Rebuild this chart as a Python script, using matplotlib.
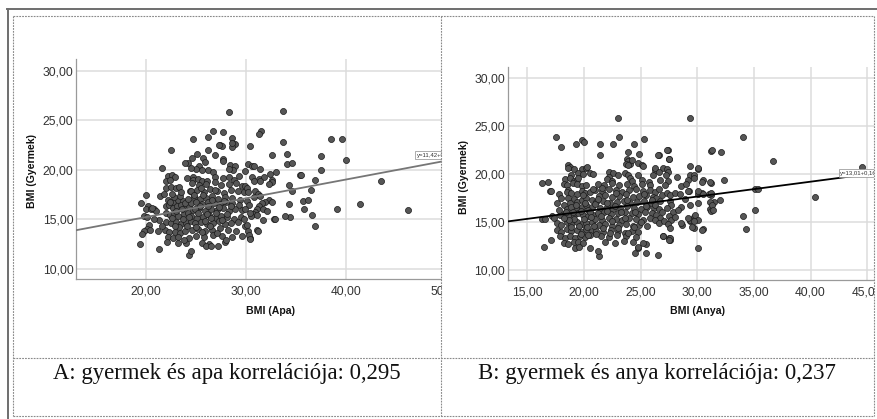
import matplotlib
matplotlib.use("Agg")
import matplotlib.pyplot as plt
from matplotlib.patches import Rectangle
from matplotlib.lines import Line2D

# ---------------- data ----------------
points_apa = [
    # sparse / outer points
    (28.3, 25.8), (33.7, 25.95), (38.5, 23.1), (39.6, 23.1), (40.0, 21.0), (43.5, 18.9), (41.4, 16.5),
    (39.1, 16.0), (46.2, 15.9), (37.5, 21.4), (37.5, 19.95), (36.9, 19.0), (36.5, 18.0), (36.9, 14.3),
    (36.6, 15.4), (35.8, 16.0), (35.7, 16.9), (36.2, 17.0), (35.4, 19.5), (34.6, 17.9), (34.3, 18.5),
    (34.3, 16.5), (34.4, 15.2), (33.9, 15.35), (34.1, 20.6), (34.6, 20.7), (34.1, 21.6), (33.7, 22.8),
    (32.6, 21.5), (33.0, 19.8), (32.4, 19.6), (32.6, 19.0), (32.8, 15.0), (31.7, 14.9), (31.1, 13.9),
    (30.4, 13.1), (31.5, 23.9), (31.3, 23.6), (30.4, 22.4), (28.9, 22.6), (28.6, 23.2), (28.6, 22.3),
    (27.7, 23.8), (26.7, 23.9), (26.2, 23.3), (24.7, 23.1), (27.4, 22.5), (27.6, 22.4), (22.5, 22.0),
    (21.6, 20.2), (20.0, 17.45), (19.5, 16.6), (19.4, 12.5), (21.3, 12.05), (24.3, 11.4), (24.5, 11.8),
    (27.2, 12.3), (35.5, 19.5),
    # left part of the cloud
    (24.2, 20.7), (23.9, 20.7), (22.2, 19.4), (22.6, 19.5), (22.9, 19.3), (24.1, 19.2), (24.7, 19.3),
    (22.0, 18.9), (22.4, 19.0), (22.0, 18.2), (22.5, 18.3), (23.0, 18.2), (23.3, 18.3), (21.4, 17.4),
    (21.8, 17.6), (24.4, 17.9), (24.7, 17.7), (22.2, 16.95), (22.7, 16.8), (23.2, 16.95), (23.7, 16.9),
    (20.2, 16.3), (20.0, 16.0), (20.5, 16.0), (20.8, 16.0), (22.0, 16.3), (22.3, 16.4), (22.7, 16.1),
    (23.1, 16.3), (23.5, 16.4), (24.0, 16.2), (24.3, 16.3), (19.8, 15.3), (20.1, 15.2), (21.3, 14.95),
    (20.8, 15.0), (22.0, 15.6), (22.4, 15.4), (22.8, 15.6), (23.2, 15.3), (23.8, 15.5), (24.2, 15.6),
    (22.0, 14.7), (22.5, 14.6), (23.0, 14.7), (23.5, 14.5), (24.0, 14.6), (24.5, 14.8), (20.3, 14.4),
    (20.1, 14.0), (19.8, 13.8), (19.6, 13.5), (21.9, 13.9), (22.3, 13.7), (22.9, 13.7), (23.4, 13.6),
    (23.9, 13.8), (22.2, 13.2), (22.7, 13.1), (23.2, 13.2), (23.2, 12.65), (24.0, 12.6), (21.2, 13.8),
    (20.4, 13.9), (21.6, 14.3), (21.0, 15.8), (20.6, 16.1),
    # middle part of the cloud
    (28.6, 22.7), (27.3, 22.5), (26.2, 22.0), (26.9, 21.5), (27.7, 21.1), (27.7, 20.9), (25.1, 21.6),
    (24.6, 21.2), (25.7, 21.2), (25.9, 20.8), (28.4, 20.5), (28.9, 20.4), (28.7, 20.0), (28.3, 20.1),
    (25.3, 20.4), (26.2, 20.0), (26.7, 19.8), (25.6, 20.0), (25.0, 20.1), (24.5, 20.2), (26.9, 19.3),
    (27.7, 19.2), (28.3, 19.3), (28.8, 19.0), (29.3, 19.4), (24.7, 19.0), (25.2, 19.1), (25.6, 18.9),
    (26.1, 18.9),
    (24.6, 18.7), (25.3, 18.5), (26.0, 18.6), (26.9, 18.8), (27.5, 18.5), (28.3, 18.6), (29.0, 18.7),
    (29.6, 18.4), (24.5, 17.9), (25.1, 18.0), (25.8, 17.8), (26.4, 18.1), (27.1, 17.9), (27.8, 17.7),
    (28.5, 18.0), (29.2, 17.9), (29.8, 17.8), (24.8, 17.3), (25.4, 17.1), (26.0, 17.2), (26.6, 17.4),
    (27.2, 17.1), (27.9, 17.3), (28.6, 17.2), (29.4, 17.0), (24.5, 16.6), (25.0, 16.7), (25.6, 16.5),
    (26.2, 16.8), (26.8, 16.6), (27.4, 16.5), (28.0, 16.7), (28.6, 16.6), (29.3, 16.4), (24.7, 15.9),
    (25.3, 16.1), (25.9, 15.8), (26.5, 16.0), (27.1, 15.9), (27.7, 16.1), (28.3, 15.8), (28.9, 16.0),
    (29.6, 15.9), (24.5, 15.3), (25.1, 15.1), (25.7, 15.2), (26.3, 15.4), (26.9, 15.1), (27.5, 15.3),
    (28.1, 15.2), (28.8, 15.0), (29.5, 15.2), (24.9, 14.6), (25.5, 14.7), (26.1, 14.5), (26.7, 14.6),
    (27.3, 14.8), (27.9, 14.5), (28.5, 14.6), (29.2, 14.7), (24.6, 13.9), (25.2, 14.0), (25.9, 13.8),
    (26.6, 13.9), (27.4, 14.1), (28.2, 13.9), (29.0, 13.8), (25.0, 13.3), (25.8, 13.2), (26.7, 13.4),
    (27.6, 13.3), (28.6, 13.2), (25.6, 12.6), (26.3, 12.5), (27.9, 12.7), (26.0, 12.3), (26.5, 12.35),
    (28.0, 12.9), (29.6, 13.3), (29.8, 15.0), (29.9, 14.3),
    # right part of the cloud
    (30.2, 20.6), (30.6, 20.4), (30.8, 20.4), (31.4, 20.1), (29.9, 19.9), (30.6, 19.3), (31.35, 19.05),
    (31.8, 19.3), (30.8, 18.9), (31.4, 18.9), (32.6, 18.8), (32.3, 18.6), (29.9, 18.4), (30.1, 18.2),
    (30.2, 17.8), (30.9, 17.9), (31.2, 17.6), (31.4, 17.4), (30.8, 17.3), (32.3, 17.0), (32.6, 16.8),
    (31.9, 16.8), (31.6, 16.6), (31.3, 16.3), (31.1, 16.0), (31.7, 16.0), (32.1, 15.8), (30.9, 15.7),
    (30.7, 15.5), (30.5, 15.3), (30.1, 16.9), (30.3, 16.4), (29.9, 16.0), (30.4, 15.6), (31.1, 15.4),
    (30.1, 14.4), (30.2, 13.8), (30.3, 13.4), (30.4, 13.0), (31.2, 13.8), (32.9, 15.0),
    # dense core
    (23.3, 14.2), (23.7, 15.0), (24.1, 14.3), (24.3, 15.2), (23.6, 16.0), (23.9, 16.6), (24.2, 17.1),
    (23.4, 17.4), (23.0, 15.8), (22.6, 15.1), (22.9, 14.3), (22.4, 16.7), (22.8, 17.3), (23.5, 17.8),
    (22.6, 17.6), (25.0, 14.2), (25.4, 16.3), (25.7, 17.5), (26.1, 15.5), (26.4, 14.3), (26.6, 17.0),
    (26.2, 16.3), (27.0, 15.6), (27.3, 16.2), (27.6, 14.9), (27.8, 16.9), (26.9, 18.0), (25.5, 18.2),
    (24.9, 16.0), (25.9, 14.8), (25.2, 15.6), (24.8, 17.5), (26.5, 15.1), (27.1, 13.6), (28.1, 15.5),
    (28.5, 16.3), (25.6, 13.7), (24.3, 13.1), (23.8, 12.9), (22.1, 12.7),
]

points_anya = [
    # sparse / outer points
    (23.0, 25.8), (29.4, 25.9), (23.1, 23.9), (17.5, 23.9), (18.0, 22.8), (19.3, 23.1), (19.8, 23.6),
    (20.0, 23.3), (21.4, 23.1), (22.6, 23.1), (24.4, 23.1), (25.3, 23.7), (34.0, 23.9), (36.7, 21.4),
    (31.2, 22.4), (32.1, 22.3), (32.4, 19.4), (40.4, 17.6), (44.5, 20.7), (35.1, 18.5), (35.4, 18.5),
    (35.1, 16.25), (34.0, 15.6), (34.3, 14.3), (30.1, 12.3), (26.5, 11.6), (24.5, 11.8), (21.3, 11.5),
    (21.2, 12.0), (20.5, 12.3), (16.5, 12.4), (17.1, 13.1), (16.3, 19.1), (16.8, 19.2), (17.0, 18.2),
    (16.3, 15.3), (21.4, 22.0), (23.9, 22.3), (24.9, 22.1), (26.6, 22.0), (27.4, 22.5), (27.5, 21.6),
    (30.1, 20.5), (30.5, 19.4), (31.2, 19.1), (31.2, 17.8), (32.0, 17.3), (31.5, 17.1), (31.1, 16.4),
    (31.2, 16.2), (30.5, 14.3), (29.7, 14.4), (29.4, 15.1), (29.7, 15.5), (28.7, 14.7), (27.6, 13.1),
    (27.5, 13.3), (27.0, 13.5), (25.5, 12.7), (24.8, 12.3), (29.4, 19.9), (29.3, 18.2), (30.1, 17.9),
    (30.4, 18.0), (25.5, 11.8), (24.8, 12.4),
    # left part of the cloud
    (18.6, 20.9), (18.8, 20.7), (19.15, 20.5), (18.6, 20.6), (19.8, 20.5), (20.2, 20.6), (20.3, 20.7),
    (19.5, 20.1), (19.95, 20.0), (20.5, 20.1), (20.8, 20.0), (18.9, 19.9), (18.3, 19.5), (18.8, 19.6),
    (19.1, 19.3), (19.4, 19.4), (19.5, 19.6), (17.1, 18.2), (17.8, 17.9),
    (18.2, 19.0), (18.5, 18.9), (19.0, 19.1), (19.4, 19.0), (19.8, 18.8), (20.2, 18.9), (18.6, 18.3),
    (18.5, 18.1), (18.9, 18.0), (19.4, 17.9), (19.8, 18.2), (20.1, 18.0), (20.5, 18.1),
    (18.6, 17.5), (19.1, 17.4), (18.8, 16.95), (19.4, 17.1), (19.8, 17.3), (20.2, 17.5), (20.7, 17.3),
    (18.2, 16.8), (18.5, 16.4), (18.9, 16.6), (19.4, 16.4), (19.8, 16.6), (20.2, 16.8), (20.7, 16.6),
    (20.4, 16.3), (17.15, 15.6), (17.4, 15.4), (16.6, 15.3),
    (17.9, 15.7), (18.3, 15.9), (18.6, 15.6), (19.1, 15.7), (19.5, 15.9), (19.9, 15.7), (20.4, 15.6),
    (20.8, 15.7), (17.6, 14.9), (18.0, 14.7), (18.5, 15.0), (18.9, 14.8), (19.4, 15.0), (19.8, 14.8),
    (20.2, 14.9), (20.7, 15.0), (17.6, 14.2), (18.0, 14.0), (18.5, 14.3), (18.9, 14.1), (19.4, 14.2),
    (19.8, 14.0), (20.2, 14.3), (20.7, 14.1), (17.9, 13.5), (18.3, 13.3), (18.8, 13.5), (19.2, 13.3),
    (19.65, 13.5), (20.1, 13.4), (20.5, 13.6), (18.2, 12.8), (18.6, 12.7), (19.1, 12.9), (19.5, 12.95),
    (19.9, 12.8), (19.2, 12.3), (19.6, 12.35),
    # middle part of the cloud
    (22.2, 20.25), (22.6, 20.1), (22.2, 19.7), (22.0, 19.5), (22.45, 19.3), (23.0, 19.9), (23.6, 20.1),
    (23.9, 19.9), (24.1, 19.6), (24.2, 19.3), (24.8, 19.9), (25.1, 19.4), (25.7, 19.2), (26.3, 20.4),
    (26.1, 19.9), (23.8, 21.6), (23.9, 21.4), (24.1, 21.1), (23.7, 21.1), (24.2, 21.5), (23.9, 20.9),
    (24.8, 21.2), (25.1, 20.9), (25.2, 20.8),
    (21.2, 19.0), (21.8, 18.9), (22.5, 19.1), (23.1, 18.9), (23.8, 19.0), (24.4, 18.8), (25.1, 19.0),
    (25.8, 18.9), (21.0, 18.3), (21.6, 18.2), (22.2, 18.4), (22.8, 18.3), (23.4, 18.1), (24.0, 18.3),
    (24.6, 18.4), (25.2, 18.2), (25.8, 18.3), (26.3, 18.1), (21.3, 17.7), (21.9, 17.8), (22.5, 17.6),
    (23.1, 17.7), (23.7, 17.9), (24.3, 17.6), (24.9, 17.7), (25.5, 17.8), (26.1, 17.6), (21.1, 17.1),
    (21.7, 17.2), (22.3, 17.0), (22.9, 17.1), (23.5, 17.2), (24.1, 17.0), (24.7, 17.1), (25.3, 17.2),
    (25.9, 17.0), (21.4, 16.5), (22.0, 16.6), (22.6, 16.4), (23.2, 16.5), (23.8, 16.7), (24.4, 16.5),
    (25.0, 16.4), (25.6, 16.6), (26.2, 16.5), (21.2, 15.9), (21.8, 16.0), (22.4, 15.8), (23.0, 15.9),
    (23.6, 16.1), (24.2, 15.9), (24.8, 15.8), (25.4, 16.0), (26.0, 15.9), (21.0, 15.3), (21.6, 15.2),
    (22.2, 15.4), (22.8, 15.3), (23.4, 15.2), (24.0, 15.4), (24.6, 15.3), (25.2, 15.2), (25.8, 15.4),
    (21.3, 14.7), (21.9, 14.8), (22.5, 14.6), (23.1, 14.7), (23.7, 14.8), (24.3, 14.6), (24.9, 14.7),
    (25.6, 14.6), (21.1, 14.1), (21.7, 14.0), (22.4, 14.2), (23.0, 14.1), (23.6, 13.9), (24.2, 14.1),
    (24.8, 14.0), (21.5, 13.5), (22.2, 13.4), (22.9, 13.6), (23.7, 13.5), (24.6, 13.4), (21.9, 12.9),
    (22.7, 12.8), (23.5, 13.0), (24.3, 12.9), (25.2, 12.8),
    # right part of the cloud
    (27.3, 22.5), (26.5, 22.0), (27.5, 21.6), (31.3, 22.5), (29.4, 20.8), (30.1, 20.6), (26.3, 20.6),
    (27.0, 20.6), (26.6, 20.25), (27.3, 20.5), (27.4, 20.25), (27.2, 19.9), (28.2, 19.7), (29.7, 19.9),
    (29.7, 19.6), (30.4, 19.2), (31.1, 19.2), (29.2, 19.4), (28.6, 18.8), (29.0, 19.0), (26.7, 19.4),
    (27.4, 19.3), (27.15, 18.9), (26.6, 18.5), (26.9, 17.8), (27.3, 18.0), (27.6, 17.8), (28.0, 18.0),
    (28.5, 17.9), (29.2, 18.2), (30.1, 18.2), (30.5, 17.9), (31.0, 17.9), (31.2, 18.0), (31.1, 17.1),
    (31.3, 16.8), (31.4, 16.3), (26.4, 17.5), (26.7, 17.2), (26.3, 16.8), (26.6, 16.4), (26.9, 16.0),
    (26.4, 15.7), (26.7, 15.4), (26.3, 15.2), (26.6, 14.9), (27.6, 17.2), (27.7, 16.8), (27.3, 16.5),
    (27.9, 16.1), (27.5, 15.6), (27.7, 15.2), (27.1, 15.1), (27.4, 14.8), (28.6, 16.6), (29.4, 16.8),
    (30.1, 16.95), (29.8, 15.7), (29.4, 15.2), (29.2, 15.4), (30.1, 15.2), (29.7, 15.1), (28.6, 14.9),
    (29.5, 14.5), (27.6, 14.35), (30.4, 14.2), (27.0, 13.5), (27.6, 13.3), (27.5, 13.1), (28.3, 16.3),
    (28.0, 15.5), (28.9, 17.4),
    # dense core
    (19.0, 16.0), (19.7, 16.2), (20.5, 16.0), (21.0, 16.9), (20.0, 15.3), (20.6, 15.5), (21.5, 15.6),
    (22.0, 16.2), (22.5, 15.1), (21.7, 14.4), (20.9, 14.6), (20.3, 14.5), (19.6, 14.6), (19.1, 15.3),
    (18.7, 15.2), (18.4, 16.1), (19.3, 16.8), (20.1, 17.0), (21.2, 17.4), (22.0, 17.0), (22.7, 16.7),
    (23.3, 16.0), (23.6, 15.4), (23.0, 14.4), (22.3, 13.9), (21.1, 13.8), (20.4, 13.7), (19.7, 13.8),
    (18.9, 14.5), (18.2, 15.4), (17.8, 16.3), (17.6, 17.0), (18.0, 17.5), (19.9, 17.8), (20.8, 18.4),
    (21.6, 18.6), (22.8, 18.0), (23.8, 17.3), (24.5, 16.0), (25.0, 15.0), (24.4, 14.5), (23.9, 13.9),
    (25.5, 16.7), (26.0, 17.3), (25.3, 17.9),
]

# regression lines: (intercept, slope)
fit_apa = (11.42, 0.19)
fit_anya = (13.01, 0.155)
label_apa = "y=11,42+0,19*x"
label_anya = "y=13,01+0,16*x"

xticks_apa = [20, 30, 40, 50]
xticks_anya = [15, 20, 25, 30, 35, 40, 45]
yticks = [10, 15, 20, 25, 30]

x_label_apa = "BMI (Apa)"
x_label_anya = "BMI (Anya)"
y_label = "BMI (Gyermek)"
caption_a = "A: gyermek és apa korrelációja: 0,295"
caption_b = "B: gyermek és anya korrelációja: 0,237"

# ---------------- layout ----------------
W, H = 877, 419
fig = plt.figure(figsize=(W / 100, H / 100), dpi=100)
fig.patch.set_facecolor("white")
SANS = ["Liberation Sans", "DejaVu Sans"]


def axes_px(left, top, right, bottom, z):
    return fig.add_axes([left / W, 1 - bottom / H, (right - left) / W, (bottom - top) / H], zorder=z)


def fmt(v):
    return f"{v:.2f}".replace(".", ",")


def style(ax, pts, fit, xlim, ylim, xticks, xlabel, lab, lab_pos, line_color, xl_coords, yl_coords):
    ax.set_facecolor("white")
    ax.set_xlim(*xlim)
    ax.set_ylim(*ylim)
    ax.set_xticks(xticks)
    ax.set_yticks(yticks)
    ax.set_xticklabels([fmt(v) for v in xticks], fontfamily=SANS, fontsize=8.7, color="#333333")
    ax.set_yticklabels([fmt(v) for v in yticks], fontfamily=SANS, fontsize=8.7, color="#333333")
    ax.tick_params(axis="both", length=0)
    ax.tick_params(axis="y", pad=2.0)
    ax.tick_params(axis="x", pad=5.0)
    ax.grid(True, color="#dcdcdc", linewidth=1.1, zorder=0)
    ax.set_axisbelow(True)
    for s in ["top", "right"]:
        ax.spines[s].set_visible(False)
    for s in ["left", "bottom"]:
        ax.spines[s].set_color("#9a9a9a")
        ax.spines[s].set_linewidth(0.9)
    xs = [p[0] for p in pts]
    ys = [p[1] for p in pts]
    ax.scatter(xs, ys, s=19, facecolor="#565656", edgecolor="#1a1a1a", linewidth=0.5, zorder=3)
    a, b = fit
    ax.plot([xlim[0], xlim[1]], [a + b * xlim[0], a + b * xlim[1]], color=line_color, lw=1.3, zorder=4)
    ax.text(lab_pos[0], lab_pos[1], lab, fontfamily=SANS, fontsize=4.3, color="#333333", va="center", ha="left",
            zorder=5, bbox=dict(boxstyle="square,pad=0.25", fc="white", ec="#8c8c8c", lw=0.5))
    ax.set_xlabel(xlabel, fontfamily=SANS, fontsize=7.6, fontweight="bold", color="#111111")
    ax.set_ylabel(y_label, fontfamily=SANS, fontsize=7.6, fontweight="bold", color="#111111")
    ax.xaxis.set_label_coords(*xl_coords)
    ax.xaxis.label.set_va("center")
    ax.yaxis.set_label_coords(*yl_coords)
    ax.yaxis.label.set_va("center")


# left chart (cropped on its right side by the table cell)
axA = axes_px(76.3, 59, 465, 278.7, 1)
style(axA, points_apa, fit_apa, (13.07, 51.9), (9.0, 31.2), xticks_apa, x_label_apa, label_apa,
      (47.1, 21.46), "#767676", (0.5, -0.146), (-0.114, 0.492))

# right chart
axB = axes_px(508, 66.7, 886, 280, 6)
style(axB, points_anya, fit_anya, (13.3, 46.66), (8.96, 31.2), xticks_anya, x_label_anya, label_anya,
      (42.6, 20.07), "#000000", (0.5, -0.144), (-0.1164, 0.484))

# white covers that crop the charts at the cell borders
fig.patches.append(Rectangle((441.5 / W, 1 - 356 / H), (472 - 441.5) / W, (356 - 18) / H,
                             transform=fig.transFigure, facecolor="white", edgecolor="none", zorder=5))
fig.patches.append(Rectangle((874 / W, 0), 3 / W, 1, transform=fig.transFigure,
                             facecolor="white", edgecolor="none", zorder=7))


def hline(y, x0, x1, **kw):
    fig.lines.append(Line2D([x0 / W, x1 / W], [1 - y / H, 1 - y / H], transform=fig.transFigure, **kw))


def vline(x, y0, y1, **kw):
    fig.lines.append(Line2D([x / W, x / W], [1 - y0 / H, 1 - y1 / H], transform=fig.transFigure, **kw))


dash = dict(color="#8a8a8a", lw=0.8, linestyle=(0, (1.6, 1.0)), zorder=10)
solid = dict(color="#6e6e6e", lw=1.4, zorder=10)

# outer solid frame (top and left)
hline(9.2, 7, 877, **solid)
vline(7.5, 9, 419, **solid)
# dashed table cells
hline(16, 12.5, 873.5, **dash)
hline(415.5, 12.5, 873.5, **dash)
hline(357.5, 12.5, 873.5, **dash)
vline(12.5, 16, 415.5, **dash)
vline(873.5, 16, 415.5, **dash)
vline(441, 16, 415.5, **dash)

# captions
SERIF = ["Liberation Serif", "DejaVu Serif"]
fig.text(227 / W, 1 - 379 / H, caption_a, fontfamily=SERIF, fontsize=16.4, ha="center", va="baseline",
         color="#111111", zorder=11)
fig.text(657 / W, 1 - 379 / H, caption_b, fontfamily=SERIF, fontsize=16.4, ha="center", va="baseline",
         color="#111111", zorder=11)

fig.savefig("out.png", dpi=100, facecolor="white")
